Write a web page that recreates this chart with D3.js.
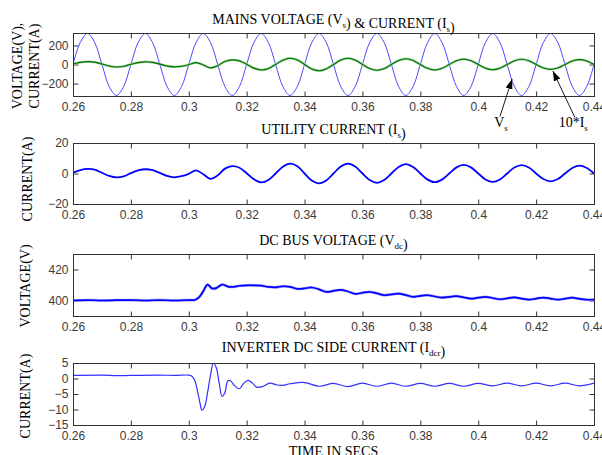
<!DOCTYPE html>
<html><head><meta charset="utf-8">
<script src="https://cdn.jsdelivr.net/npm/d3@7"></script>
<style>
html,body{margin:0;padding:0;background:#fff;}
svg{display:block;}
.tick text{font-family:"Liberation Sans",Arial,sans-serif;font-size:12px;fill:#3a3a3a;}
.ttl{font-family:"Liberation Serif","Times New Roman",serif;font-size:14px;fill:#000;}
</style></head><body>
<script>
// ---------------- DATA ----------------
const xTickValues = [0.26,0.28,0.30,0.32,0.34,0.36,0.38,0.40,0.42,0.44];
const xTickLabels = ["0.26","0.28","0.3","0.32","0.34","0.36","0.38","0.4","0.42","0.44"];

const acTime = [0.26,0.2625,0.265,0.2675,0.27,0.2725,0.275,0.2775,0.28,0.2825,0.285,0.2875,0.29,0.2925,0.295,0.2975,
 0.30,0.3025,0.305,0.3075,0.31,0.3125,0.315,0.3175,0.32,0.3225,0.325,0.3275,0.33,0.3325,0.335,0.3375,
 0.34,0.3425,0.345,0.3475,0.35,0.3525,0.355,0.3575,0.36,0.3625,0.365,0.3675,0.37,0.3725,0.375,0.3775,
 0.38,0.3825,0.385,0.3875,0.39,0.3925,0.395,0.3975,0.40,0.4025,0.405,0.4075,0.41,0.4125,0.415,0.4175,
 0.42,0.4225,0.425,0.4275,0.43,0.4325,0.435,0.4375,0.44];
const vsValues = [0,230,325,230,0,-230,-325,-230, 0,230,325,230,0,-230,-325,-230,
 0,230,325,230,0,-230,-325,-230, 0,230,325,230,0,-230,-325,-230,
 0,230,325,230,0,-230,-325,-230, 0,230,325,230,0,-230,-325,-230,
 0,230,325,230,0,-230,-325,-230, 0,230,325,230,0,-230,-325,-230,
 0,230,325,230,0,-230,-325,-230, 0];
const isValues = [0.5,2.2,3.0,2.5,0.5,-1.6,-2.6,-1.9, 0.2,2.0,2.8,2.2,0.4,-1.6,-2.5,-1.8,
 -0.2,2.0,-0.5,-3.5,-1.2,3.2,4.8,3.8, 0.2,-3.8,-5.8,-4.2,0,4.5,6.5,4.8,
 0,-4.6,-6.5,-4.6,0,4.6,6.5,4.6, 0,-4.3,-6.1,-4.3,0,4.3,6.1,4.3,
 0,-4.0,-5.7,-4.0,0,4.0,5.6,4.0, 0,-3.9,-5.5,-3.9,0,3.9,5.5,3.9,
 0,-3.6,-5.1,-3.6,0,3.6,5.1,3.6, 0];

const vdcTime = [0.26,0.265,0.27,0.275,0.28,0.285,0.29,0.295,0.30,0.302,0.3035,0.305,0.3065,0.308,0.3095,0.3115,0.3135,0.315,0.3175,
 0.32,0.3225,0.325,0.3275,0.33,0.3325,0.335,0.3375,0.34,0.3425,0.345,0.3475,0.35,0.3525,0.355,0.3575,
 0.36,0.3625,0.365,0.3675,0.37,0.3725,0.375,0.3775,0.38,0.3825,0.385,0.3875,0.39,0.3925,0.395,0.3975,
 0.40,0.4025,0.405,0.4075,0.41,0.4125,0.415,0.4175,0.42,0.4225,0.425,0.4275,0.43,0.4325,0.435,0.4375,0.44];
const vdcValues = [400,400.3,400,400.2,400.3,400,400.3,400,400.3,400.3,402,406,410.3,407.8,408,410.3,409,408.8,409.5,
 409.8,409.8,409.6,408.8,408.5,409.2,408.8,407.5,407.8,408.4,407.2,405.6,406.2,406.9,405.8,404.3,
 405,405.5,404.6,403.4,404,404.4,403.5,402.4,403,403.4,402.6,401.8,402.4,402.8,402,401.2,
 401.8,402.4,401.6,400.8,401.4,402,401.2,400.6,401.2,401.9,401.2,400.6,401.2,401.8,401,400.5,400.6];

const idcTime = [0.26,0.27,0.275,0.28,0.29,0.295,0.30,0.301,0.302,0.303,0.304,0.3045,0.3055,0.3065,0.3075,0.3085,0.3095,
 0.3105,0.3115,0.3125,0.3135,0.3145,0.3155,0.3175,0.319,0.3205,0.322,0.3235,0.3255,0.328,0.3305,0.3325,0.335,
 0.34,0.345,0.35,0.355,0.36,0.365,0.37,0.375,0.38,0.385,0.39,0.395,0.40,0.405,0.41,0.415,0.42,0.425,0.43,0.435,0.44];
const idcValues = [1.0,1.1,0.9,1.0,1.1,1.0,1.1,0.8,-0.5,-4,-8.5,-10.2,-9,-4.5,1,5,3.5,
 -1.5,-5.8,-4.5,-0.7,-0.8,-2,-3.3,-1.5,-0.6,-1.5,-2.8,-2.6,-1.5,-2.1,-2.2,-1.7,
 -1.3,-2.5,-1.6,-2.6,-1.5,-2.5,-1.5,-2.5,-1.6,-2.5,-1.6,-2.5,-1.6,-2.4,-1.5,-2.4,-1.5,-2.4,-1.5,-2.4,-1.5];

const acTicks = [-200,0,200];
const isTicks = [-20,0,20];
const vdcTicks = [400,420];
const idcTicks = [-15,-10,-5,0,5];

// ---------------- LAYOUT ----------------
const W = 602, H = 455;
const X0 = 73, X1 = 594;
const svg = d3.select("body").append("svg").attr("width", W).attr("height", H);
svg.append("rect").attr("width", W).attr("height", H).attr("fill", "#fff");
const defs = svg.append("defs");
defs.append("marker").attr("id","arr").attr("viewBox","0 0 10 10").attr("refX",10).attr("refY",5)
  .attr("markerWidth",10).attr("markerHeight",10).attr("markerUnits","userSpaceOnUse").attr("orient","auto")
  .append("path").attr("d","M0,1.5 L10,5 L0,8.5 Z").attr("fill","#000");

const x = d3.scaleLinear().domain([0.26, 0.44]).range([X0, X1]);

function titleText(g, parts, cx, cy) {
  const t = g.append("text").attr("class","ttl").attr("x", cx).attr("y", cy).attr("text-anchor","middle");
  parts.forEach(p => {
    if (p.sub) {
      t.append("tspan").attr("font-size","9px").attr("dy", 4).text(p.sub);
      t.append("tspan").attr("dy", -4).text("");
    } else t.append("tspan").text(p.t);
  });
  return t;
}

function panel(cfg) {
  const g = svg.append("g");
  const y = d3.scaleLinear().domain(cfg.domain).range([cfg.y1, cfg.y0]);
  const id = "clip" + cfg.id;
  defs.append("clipPath").attr("id", id).append("rect")
    .attr("x", X0).attr("y", cfg.y0).attr("width", X1 - X0).attr("height", cfg.y1 - cfg.y0);

  const fmtX = (d) => xTickLabels[xTickValues.indexOf(d)];
  g.append("g").attr("transform", `translate(0,${cfg.y1 + 0.5})`)
    .call(d3.axisBottom(x).tickValues(xTickValues).tickFormat(fmtX).tickSizeInner(-5).tickSizeOuter(0).tickPadding(6))
    .call(a => a.select(".domain").remove());
  g.append("g").attr("transform", `translate(0,${cfg.y0 + 0.5})`)
    .call(d3.axisTop(x).tickValues(xTickValues).tickFormat("").tickSizeInner(-5).tickSizeOuter(0))
    .call(a => a.select(".domain").remove());
  g.append("g").attr("transform", `translate(${X0 + 0.5},0)`)
    .call(d3.axisLeft(y).tickValues(cfg.ticks).tickFormat(d3.format("d")).tickSizeInner(-5).tickSizeOuter(0).tickPadding(5))
    .call(a => a.select(".domain").remove());
  g.append("g").attr("transform", `translate(${X1 + 0.5},0)`)
    .call(d3.axisRight(y).tickValues(cfg.ticks).tickFormat("").tickSizeInner(-5).tickSizeOuter(0))
    .call(a => a.select(".domain").remove());
  g.selectAll(".tick line").attr("stroke", "#333");

  const pg = g.append("g").attr("clip-path", `url(#${id})`);
  cfg.series.forEach(s => {
    const line = d3.line().x((d, i) => x(s.t[i])).y(d => y(d)).curve(d3.curveCatmullRom.alpha(0.5));
    if (s.halo) pg.append("path").attr("d", line(s.v)).attr("fill","none").attr("stroke", s.halo).attr("stroke-width", s.hw);
    pg.append("path").attr("d", line(s.v)).attr("fill","none").attr("stroke", s.color).attr("stroke-width", s.w)
      .attr("stroke-linejoin","round");
  });

  g.append("rect").attr("x", X0 + 0.5).attr("y", cfg.y0 + 0.5).attr("width", X1 - X0).attr("height", cfg.y1 - cfg.y0)
    .attr("fill","none").attr("stroke","#333").attr("stroke-width",1);

  titleText(g, cfg.title, (X0 + X1) / 2, cfg.titleY);
  cfg.ylab.forEach(l => {
    g.append("text").attr("class","ttl").attr("font-size","14.5px")
      .attr("transform", `translate(${l.x},${l.y}) rotate(-90)`).attr("text-anchor","middle")
      .attr("dy","0.35em").text(l.t);
  });
  return {g, y};
}

const p1 = panel({
  id: 1, y0: 33, y1: 96, domain: [-330, 330], ticks: acTicks, titleY: 24,
  title: [{t:"MAINS VOLTAGE (V"},{sub:"s"},{t:") & CURRENT (I"},{sub:"s"},{t:")"}],
  ylab: [{t:"VOLTAGE(V),", x:17, y:66},{t:"CURRENT(A)", x:34, y:66}],
  series: [
    {t: acTime, v: vsValues, color: "#4a4aff", w: 1},
    {t: acTime, v: isValues.map(d => d * 10), color: "#006f00", w: 1.1, halo: "#9ad29a", hw: 2.4}
  ]
});
panel({
  id: 2, y0: 143, y1: 204, domain: [-20, 20], ticks: isTicks, titleY: 134,
  title: [{t:"UTILITY CURRENT (I"},{sub:"s"},{t:")"}],
  ylab: [{t:"CURRENT(A)", x:27, y:179}],
  series: [{t: acTime, v: isValues, color: "#0000ff", w: 1.8}]
});
panel({
  id: 3, y0: 254, y1: 316, domain: [390, 430], ticks: vdcTicks, titleY: 245,
  title: [{t:"DC BUS VOLTAGE (V"},{sub:"dc"},{t:")"}],
  ylab: [{t:"VOLTAGE(V)", x:25, y:286}],
  series: [{t: vdcTime, v: vdcValues, color: "#0000ff", w: 1.7, halo: "#a8a8ff", hw: 2.8}]
});
panel({
  id: 4, y0: 363, y1: 425, domain: [-15, 5], ticks: idcTicks, titleY: 352,
  title: [{t:"INVERTER DC SIDE CURRENT (I"},{sub:"dcr"},{t:")"}],
  ylab: [{t:"CURRENT(A)", x:25, y:396}],
  series: [{t: idcTime, v: idcValues, color: "#3030ff", w: 1.2}]
});
svg.append("text").attr("class","ttl").attr("x",(X0+X1)/2).attr("y",456).attr("text-anchor","middle").text("TIME IN SECS");

// annotations (in data coordinates of panel 1)
const annVs = {tip:[0.4117,-152], tail:[0.4075,-545], text:[0.4055,-655]};
const annIs = {tip:[0.4258,-68], tail:[0.4334,-555], text:[0.4278,-655]};
[annVs, annIs].forEach((a, k) => {
  p1.g.append("line").attr("x1", x(a.tail[0])).attr("y1", p1.y(a.tail[1]))
    .attr("x2", x(a.tip[0])).attr("y2", p1.y(a.tip[1]))
    .attr("stroke","#000").attr("stroke-width",0.9).attr("marker-end","url(#arr)");
  const t = p1.g.append("text").attr("class","ttl").attr("x", x(a.text[0])).attr("y", p1.y(a.text[1]));
  t.append("tspan").text(k === 0 ? "V" : "10*I");
  t.append("tspan").attr("font-size","9px").attr("dy",4).text("s");
});
</script>
</body></html>
